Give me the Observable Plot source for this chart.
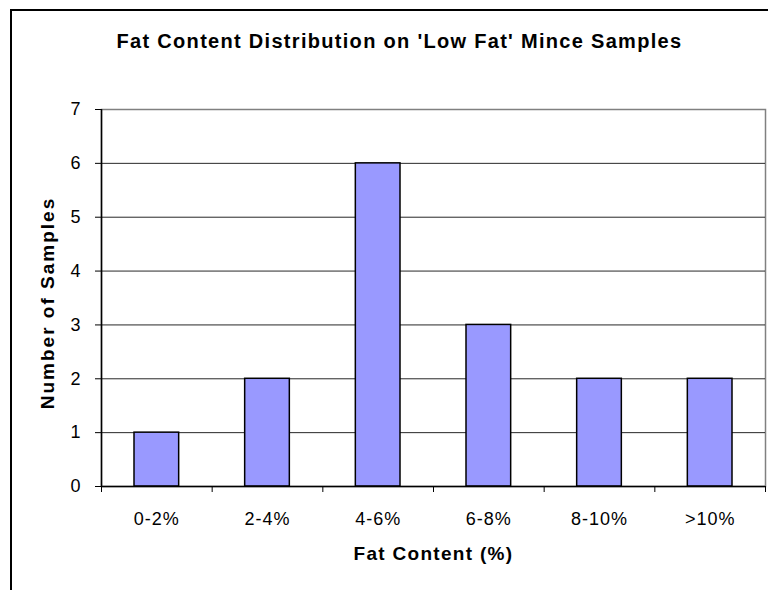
<!DOCTYPE html>
<html>
<head>
<meta charset="utf-8">
<script src="https://cdn.jsdelivr.net/npm/d3@7"></script>
<script src="https://cdn.jsdelivr.net/npm/@observablehq/plot@0.6"></script>
<style>
  html, body { margin: 0; padding: 0; background: #fff; overflow: hidden; }
  #wrap { position: relative; width: 768px; height: 590px; overflow: hidden; }
  #border { position: absolute; left: 10px; top: 9px; width: 800px; height: 700px; border: 2px solid #000; pointer-events: none; }
  svg { font-family: "Liberation Sans", Arial, sans-serif; }
</style>
</head>
<body>
<div id="wrap"><div id="border"></div></div>
<script>
const categories = ["0-2%", "2-4%", "4-6%", "6-8%", "8-10%", ">10%"];
const counts = [1, 2, 6, 3, 2, 2];
const yTicks = [0, 1, 2, 3, 4, 5, 6, 7];
const titleText = "Fat Content Distribution on 'Low Fat' Mince Samples";
const xTitle = "Fat Content (%)";
const yTitle = "Number of Samples";

const data = categories.map((c, i) => ({category: c, index: i, count: counts[i]}));
const n = categories.length;

const chart = Plot.plot({
  width: 768,
  height: 590,
  marginLeft: 101,
  marginRight: 3,
  marginTop: 109,
  marginBottom: 104,
  style: {fontFamily: "'Liberation Sans', Arial, sans-serif", background: "transparent", color: "#000"},
  x: {domain: [0, n], axis: null},
  y: {domain: [0, 7], axis: null},
  marks: [
    Plot.frame({stroke: "#808080", strokeWidth: 1.5}),
    Plot.gridY({ticks: [1, 2, 3, 4, 5, 6], stroke: "#000", strokeOpacity: 0.85, strokeWidth: 1}),
    Plot.rectY(data, {x1: "index", x2: d => d.index + 1, y1: 0, y2: "count", insetLeft: 33, insetRight: 33, fill: "#9999FF", stroke: "#000", strokeWidth: 1.5}),
    Plot.ruleY([0], {stroke: "#000", strokeWidth: 1.5}),
    Plot.ruleX([0], {stroke: "#000", strokeWidth: 1.5}),
    Plot.axisY({ticks: yTicks, tickSize: 6, tickPadding: 14, fontSize: 18, label: null, tickFormat: d => String(d), stroke: "#000"}),
    Plot.axisX({ticks: d3.range(n + 1), tickSize: 6, tickFormat: () => "", label: null, stroke: "#000"}),
    Plot.axisX({ticks: categories.map((c, i) => i + 0.5), tickSize: 0, tickPadding: 26, fontSize: 18, label: null, tickFormat: d => categories[Math.floor(d)]}),
    Plot.text([titleText], {frameAnchor: "top", dx: -34, dy: -76, fontSize: 20, fontWeight: "bold", fill: "#000"}),
    Plot.text([xTitle], {frameAnchor: "bottom", dy: 73, fontSize: 19, fontWeight: "bold", fill: "#000"}),
    Plot.text([yTitle], {frameAnchor: "left", textAnchor: "middle", rotate: -90, dx: -54, dy: 5, fontSize: 19, fontWeight: "bold", fill: "#000"})
  ]
});
document.getElementById("wrap").prepend(chart);

// Excel-like wider letter spacing
const spacing = new Map([[titleText, "1.3px"], [xTitle, "1.3px"], [yTitle, "2px"]]);
d3.select(chart).selectAll("text").each(function() {
  const t = this.textContent;
  this.style.letterSpacing = spacing.get(t) || "1px";
});
</script>
</body>
</html>
